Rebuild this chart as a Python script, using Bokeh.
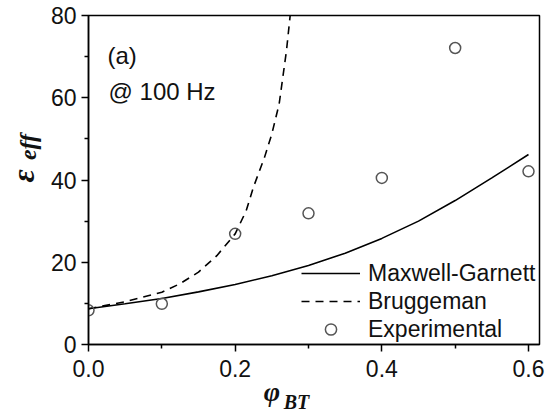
import numpy as np
from bokeh.plotting import figure
from bokeh.models import (FixedTicker, PrintfTickFormatter, Label, Legend, LegendItem,
                          Range1d, LinearAxis)
from bokeh.embed import file_html
from bokeh.resources import INLINE

# ---- data ----
exp_phi = [0.0, 0.1, 0.2, 0.3, 0.4, 0.5, 0.6]
exp_eps = [8.3, 9.9, 26.9, 31.9, 40.5, 72.1, 42.1]

mg_phi = [0.0, 0.05, 0.1, 0.15, 0.2, 0.25, 0.3, 0.35, 0.4, 0.45, 0.5, 0.55, 0.6]
mg_eps = [8.7, 9.9, 11.2, 12.8, 14.6, 16.7, 19.2, 22.2, 25.8, 30.0, 35.0, 40.5, 46.2]

br_phi = [0.0, 0.05, 0.1, 0.125, 0.15, 0.175, 0.2, 0.215, 0.225, 0.24, 0.25, 0.26, 0.27, 0.275]
br_eps = [8.7, 10.4, 12.7, 14.8, 17.6, 21.6, 26.9, 32.5, 38.3, 45.5, 51.2, 58.5, 71.5, 80.0]

x_ticks = [0.0, 0.2, 0.4, 0.6]
x_minor = [0.1, 0.3, 0.5]
y_ticks = [0, 20, 40, 60, 80]
y_minor = [10, 30, 50, 70]

SANS = "Liberation Sans"
SERIF = "Liberation Serif"
NB = "\u00a0"

p = figure(width=548, height=415, output_backend="svg", toolbar_location=None,
           x_range=Range1d(0, 0.615), y_range=Range1d(0, 80),
           min_border_left=88, min_border_right=9, min_border_top=15, min_border_bottom=71)
p.grid.visible = False
p.outline_line_color = "black"
p.outline_line_width = 1.5
p.background_fill_color = "white"
p.border_fill_color = "white"

for ax, t, m, fmt in [(p.xaxis[0], x_ticks, x_minor, "%.1f"), (p.yaxis[0], y_ticks, y_minor, "%d")]:
    ax.ticker = FixedTicker(ticks=t, minor_ticks=m)
    ax.formatter = PrintfTickFormatter(format=fmt)
    ax.axis_line_width = 1.5
    ax.axis_line_color = "black"
    ax.major_tick_line_width = 1.5
    ax.minor_tick_line_width = 1.5
    ax.major_tick_in = 0
    ax.major_tick_out = 7
    ax.minor_tick_in = 0
    ax.minor_tick_out = 4
    ax.major_label_text_font = SANS
    ax.major_label_text_font_size = "23px"
    ax.major_label_text_color = "#111111"
    ax.axis_label_text_font = SERIF
    ax.axis_label_text_font_style = "bold italic"
    ax.axis_label_text_color = "#111111"

p.xaxis[0].major_label_standoff = 8
p.yaxis[0].major_label_standoff = 5

# axis titles: main symbol / subscript split over the primary axis and an extra label-only axis
p.xaxis[0].axis_label = "φ" + NB * 12
p.xaxis[0].axis_label_text_font_size = "28px"
p.xaxis[0].axis_label_standoff = -4

p.yaxis[0].axis_label = NB * 11 + "eff"
p.yaxis[0].axis_label_text_font_size = "24px"
p.yaxis[0].axis_label_standoff = 7


def title_axis(text, size, standoff):
    a = LinearAxis(ticker=FixedTicker(ticks=[]), axis_label=text,
                   axis_line_color=None, major_tick_line_color=None, minor_tick_line_color=None,
                   major_tick_in=0, major_tick_out=0, minor_tick_in=0, minor_tick_out=0,
                   major_label_text_font_size="0px", major_label_standoff=0,
                   axis_label_text_font=SERIF, axis_label_text_font_style="bold italic",
                   axis_label_text_font_size=size, axis_label_text_color="#111111",
                   axis_label_standoff=standoff)
    return a

p.add_layout(title_axis("BT" + NB * 7, "20px", -19), "below")
p.add_layout(title_axis(NB * 1 + "ε", "32px", -29), "left")

mg = p.line(mg_phi, mg_eps, line_color="black", line_width=1.6)
br = p.line(br_phi, br_eps, line_color="black", line_width=1.6, line_dash="8 6")
ex = p.scatter(exp_phi, exp_eps, marker="circle", size=11, fill_color=None,
               line_color="#555555", line_width=1.5)

legend = Legend(items=[LegendItem(label="Maxwell-Garnett", renderers=[mg]),
                       LegendItem(label="Bruggeman", renderers=[br]),
                       LegendItem(label="Experimental", renderers=[ex])],
                location=(213, 1), padding=0, margin=0, spacing=0,
                glyph_width=59, glyph_height=28, label_height=28, label_standoff=8,
                label_text_font=SANS, label_text_font_size="23px", label_text_color="#111111",
                border_line_color=None, background_fill_alpha=0)
p.add_layout(legend, "center")

def lab(x, y, text, font, size, style="normal"):
    p.add_layout(Label(x=x, y=y, x_units="screen", y_units="screen", text=text,
                       text_font=font, text_font_size=size, text_font_style=style,
                       text_color="#111111", text_align="left", text_baseline="alphabetic"))

lab(19, 289, "(a)", SANS, "24px")
lab(20, 253, "@ 100 Hz", SANS, "24px")

open("out.html", "w").write(file_html(p, INLINE))
